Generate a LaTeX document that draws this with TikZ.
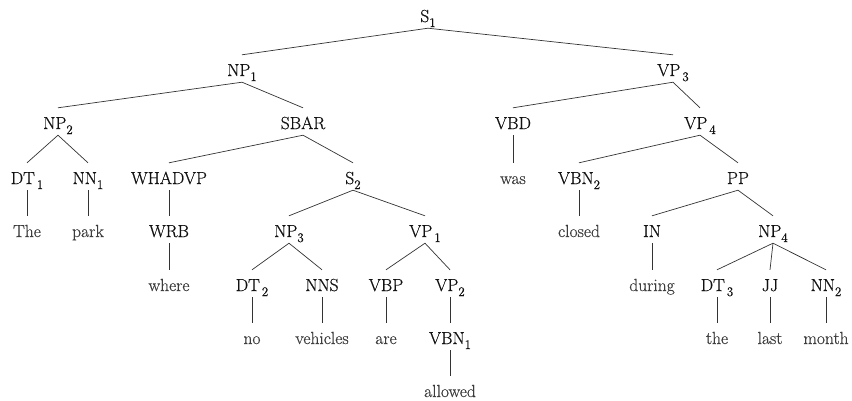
\documentclass[tikz,border=0pt]{standalone}
\usepackage{fontspec}
\newfontfamily\treefont{Latin Modern Roman}[FakeBold=0.5]
\definecolor{labelink}{HTML}{111111}
\definecolor{wordink}{HTML}{3C3C3C}
\definecolor{branch}{HTML}{333333}
% category label with a lowered index; optional first argument is extra gap
\newcommand\cat[3][0pt]{#2\kern#1\raisebox{-5pt}{\fontsize{13}{13}\selectfont #3}}
\begin{document}
\begin{tikzpicture}[x=1pt,y=-1pt,
  tag/.style={anchor=base,text height=19pt,text depth=4pt,inner xsep=0pt,inner ysep=2pt,
    font=\treefont\fontsize{17.5}{21}\selectfont,text=labelink},
  word/.style={tag,text=wordink},
  edge/.style={draw=branch,line width=0.7pt}]
\useasboundingbox (0,0) rectangle (852,400);
% level baselines: 22, 76, 129, 184, 237, 291, 344, 397
\node[tag] (s1) at (428,22) {\cat{S}{1}};
\node[tag] (np1) at (242,76) {\cat{NP}{1}};
\node[tag] (vp3) at (673,76) {\cat[2pt]{VP}{3}};
\node[tag] (np2) at (58,129) {\cat{NP}{2}};
\node[tag] (sbar) at (303,129) {SBAR};
\node[tag] (vbd) at (513,129) {VBD};
\node[tag] (vp4) at (700,129) {\cat[2pt]{VP}{4}};
\node[tag] (dt1) at (27,184) {\cat[2pt]{DT}{1}};
\node[tag] (nn1) at (88,184) {\cat{NN}{1}};
\node[tag] (whadvp) at (169,184) {WHADVP};
\node[tag] (s2) at (353,184) {\cat{S}{2}};
\node[word] (was) at (513,184) {was};
\node[tag] (vbn2) at (579,184) {\cat{VBN}{2}};
\node[tag] (pp) at (738,184) {PP};
\node[word] (the1) at (27,237) {The};
\node[word] (park) at (88,237) {park};
\node[tag] (wrb) at (169,237) {WRB};
\node[tag] (np3) at (289,237) {\cat{NP}{3}};
\node[tag] (vp1) at (425,237) {\cat[2pt]{VP}{1}};
\node[word] (closed) at (579,237) {closed};
\node[tag] (in) at (652,237) {IN};
\node[tag] (np4) at (773,237) {\cat{NP}{4}};
\node[word] (where) at (169,291) {where};
\node[tag] (dt2) at (252,291) {\cat[2pt]{DT}{2}};
\node[tag] (nns) at (322,291) {NNS};
\node[tag] (vbp) at (386,291) {VBP};
\node[tag] (vp2) at (450,291) {\cat{VP}{2}};
\node[word] (during) at (652,291) {during};
\node[tag] (dt3) at (717,291) {\cat[2pt]{DT}{3}};
\node[tag] (jj) at (770,291) {JJ};
\node[tag] (nn2) at (826,291) {\cat{NN}{2}};
\node[word] (no) at (252,344) {no};
\node[word] (vehicles) at (322,344) {vehicles};
\node[word] (are) at (386,344) {are};
\node[tag] (vbn1) at (450,344) {\cat{VBN}{1}};
\node[word] (the2) at (717,344) {the};
\node[word] (last) at (770,344) {last};
\node[word] (month) at (826,344) {month};
\node[word] (allowed) at (450,397) {allowed};
% branches
\foreach \p/\c in {s1/np1,s1/vp3,np1/np2,np1/sbar,vp3/vbd,vp3/vp4,
  np2/dt1,np2/nn1,sbar/whadvp,sbar/s2,vbd/was,vp4/vbn2,vp4/pp,
  dt1/the1,nn1/park,whadvp/wrb,s2/np3,s2/vp1,vbn2/closed,pp/in,pp/np4,
  wrb/where,np3/dt2,np3/nns,vp1/vbp,vp1/vp2,in/during,np4/dt3,np4/jj,np4/nn2,
  dt2/no,nns/vehicles,vbp/are,vp2/vbn1,dt3/the2,jj/last,nn2/month,vbn1/allowed}
  \path[edge] (\p.south) -- (\c.north);
\end{tikzpicture}
\end{document}
